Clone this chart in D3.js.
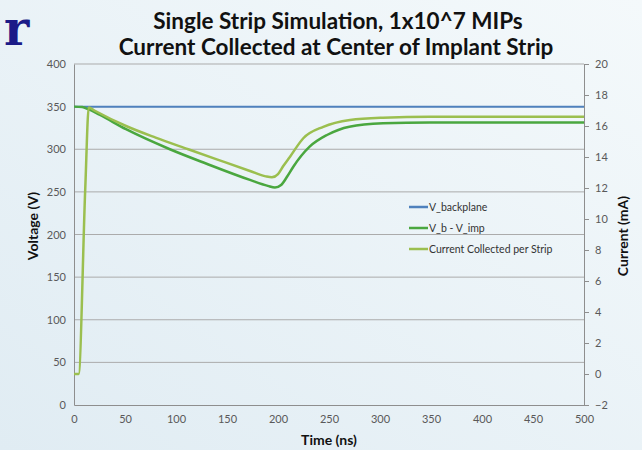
<!DOCTYPE html>
<html>
<head>
<meta charset="utf-8">
<script src="https://cdn.jsdelivr.net/npm/d3@7"></script>
<style>
  body { margin: 0; }
  text { font-family: Lato, "Open Sans", sans-serif; }
</style>
</head>
<body>
<svg id="chart" width="642" height="450"></svg>
<script>
// ---- data ----
const timeTicks = [0, 50, 100, 150, 200, 250, 300, 350, 400, 450, 500];
const voltTicks = [0, 50, 100, 150, 200, 250, 300, 350, 400];
const currTicks = [-2, 0, 2, 4, 6, 8, 10, 12, 14, 16, 18, 20];

const backplaneT = [0, 500];
const backplaneV = [350, 350];

// V_b - V_imp (left axis, V)
const diffT = [0, 8, 14, 25, 51, 94, 130, 172.5, 190, 197, 203, 209, 215, 231, 248, 270, 303, 349, 400, 500];
const diffV = [350, 349.5, 347, 340.5, 323.5, 300, 283, 264, 257, 255, 258, 268, 279.5, 303, 316.7, 326.5, 330.4, 331.5, 331.5, 331.5];

// Current collected per strip (right axis, mA)
const currT = [0, 4.5, 11, 14.5, 20, 51, 80, 112, 140, 172.5, 188, 194, 200, 205, 211.8, 224.8, 244.4, 270.6, 303, 349, 500];
const currI = [0, 0, 11.9, 17.2, 17.0, 16.0, 15.25, 14.5, 13.85, 13.1, 12.75, 12.69, 12.9, 13.4, 14.02, 15.21, 15.95, 16.39, 16.54, 16.6, 16.6];

const seriesNames = ["V_backplane", "V_b - V_imp", "Current Collected per Strip"];
const seriesColors = ["#4f81bd", "#4aa73f", "#9bbf4f"];

// ---- layout ----
const svg = d3.select("#chart");
const W = 642, H = 450;
const m = { left: 74, right: 584, top: 64, bottom: 405 };

const defs = svg.append("defs");
const grad = defs.append("linearGradient")
    .attr("id", "bg").attr("x1", 0).attr("y1", 1).attr("x2", 1).attr("y2", 0);
grad.append("stop").attr("offset", "0%").attr("stop-color", "#e0ecf3");
grad.append("stop").attr("offset", "100%").attr("stop-color", "#f4f9fb");
svg.append("rect").attr("width", W).attr("height", H).attr("fill", "url(#bg)");

const x = d3.scaleLinear().domain([0, 500]).range([m.left, m.right]);
const yV = d3.scaleLinear().domain([0, 400]).range([m.bottom, m.top]);
const yI = d3.scaleLinear().domain([-2, 20]).range([m.bottom, m.top]);

// stray slide letter
svg.append("text")
    .attr("x", 4).attr("y", 45)
    .style("font-family", "'DejaVu Serif', 'Liberation Serif', serif")
    .style("font-weight", "bold").style("font-size", "48px")
    .attr("fill", "#1b1b88")
    .text("r");

// title
const title = svg.append("text")
    .attr("text-anchor", "middle")
    .style("font-weight", "bold").style("font-size", "22.5px")
    .attr("fill", "#111");
title.append("tspan").attr("x", 338).attr("y", 29).text("Single Strip Simulation, 1x10^7 MIPs");
title.append("tspan").attr("x", 336).attr("y", 55).text("Current Collected at Center of Implant Strip");

// gridlines
svg.append("g")
    .selectAll("line")
    .data(voltTicks.filter(d => d > 0))
    .join("line")
    .attr("x1", m.left).attr("x2", m.right)
    .attr("y1", d => yV(d)).attr("y2", d => yV(d))
    .attr("stroke", "#ababab").attr("stroke-width", 1);

// axes
const styleAxis = g => {
    g.select(".domain").attr("stroke", "#8e8e8e");
    g.selectAll(".tick line").attr("stroke", "#8e8e8e");
    g.selectAll("text").attr("fill", "#595959").style("font-size", "11px")
        .style("font-family", "Lato, 'Open Sans', sans-serif");
};

svg.append("g")
    .attr("transform", `translate(${m.left},0)`)
    .call(d3.axisLeft(yV).tickValues(voltTicks).tickSize(0).tickPadding(8).tickSizeOuter(0))
    .call(styleAxis);

svg.append("g")
    .attr("transform", `translate(0,${m.bottom})`)
    .call(d3.axisBottom(x).tickValues(timeTicks).tickSize(0).tickPadding(10).tickSizeOuter(0))
    .call(styleAxis);

svg.append("g")
    .attr("transform", `translate(${m.right},0)`)
    .call(d3.axisRight(yI).tickValues(currTicks).tickSize(5).tickPadding(6).tickSizeOuter(0))
    .call(styleAxis);

// axis titles
svg.append("text")
    .attr("transform", "translate(38,226) rotate(-90)")
    .attr("text-anchor", "middle")
    .style("font-weight", "bold").style("font-size", "14px").attr("fill", "#111")
    .text("Voltage (V)");

svg.append("text")
    .attr("transform", "translate(628,236) rotate(-90)")
    .attr("text-anchor", "middle")
    .style("font-weight", "bold").style("font-size", "14px").attr("fill", "#111")
    .text("Current (mA)");

svg.append("text")
    .attr("x", 329).attr("y", 445)
    .attr("text-anchor", "middle")
    .style("font-weight", "bold").style("font-size", "14px").attr("fill", "#111")
    .text("Time (ns)");

// lines
const lineV = d3.line().x(d => x(d[0])).y(d => yV(d[1])).curve(d3.curveMonotoneX);
const lineI = d3.line().x(d => x(d[0])).y(d => yI(d[1])).curve(d3.curveMonotoneX);

svg.append("path")
    .datum(d3.zip(backplaneT, backplaneV))
    .attr("d", lineV).attr("fill", "none")
    .attr("stroke", seriesColors[0]).attr("stroke-width", 2);

svg.append("path")
    .datum(d3.zip(diffT, diffV))
    .attr("d", lineV).attr("fill", "none")
    .attr("stroke", seriesColors[1]).attr("stroke-width", 2.5);

svg.append("path")
    .datum(d3.zip(currT, currI))
    .attr("d", lineI).attr("fill", "none")
    .attr("stroke", seriesColors[2]).attr("stroke-width", 2.5);

// legend
const legend = svg.append("g").attr("transform", "translate(409,207)");
const item = legend.selectAll("g")
    .data(seriesNames)
    .join("g")
    .attr("transform", (d, i) => `translate(0,${i * 21})`);
item.append("line")
    .attr("x1", 0).attr("x2", 19)
    .attr("stroke", (d, i) => seriesColors[i]).attr("stroke-width", 2.5);
item.append("text")
    .attr("x", 20).attr("y", 4)
    .style("font-size", "10.5px").attr("fill", "#333")
    .text(d => d);
</script>
</body>
</html>
